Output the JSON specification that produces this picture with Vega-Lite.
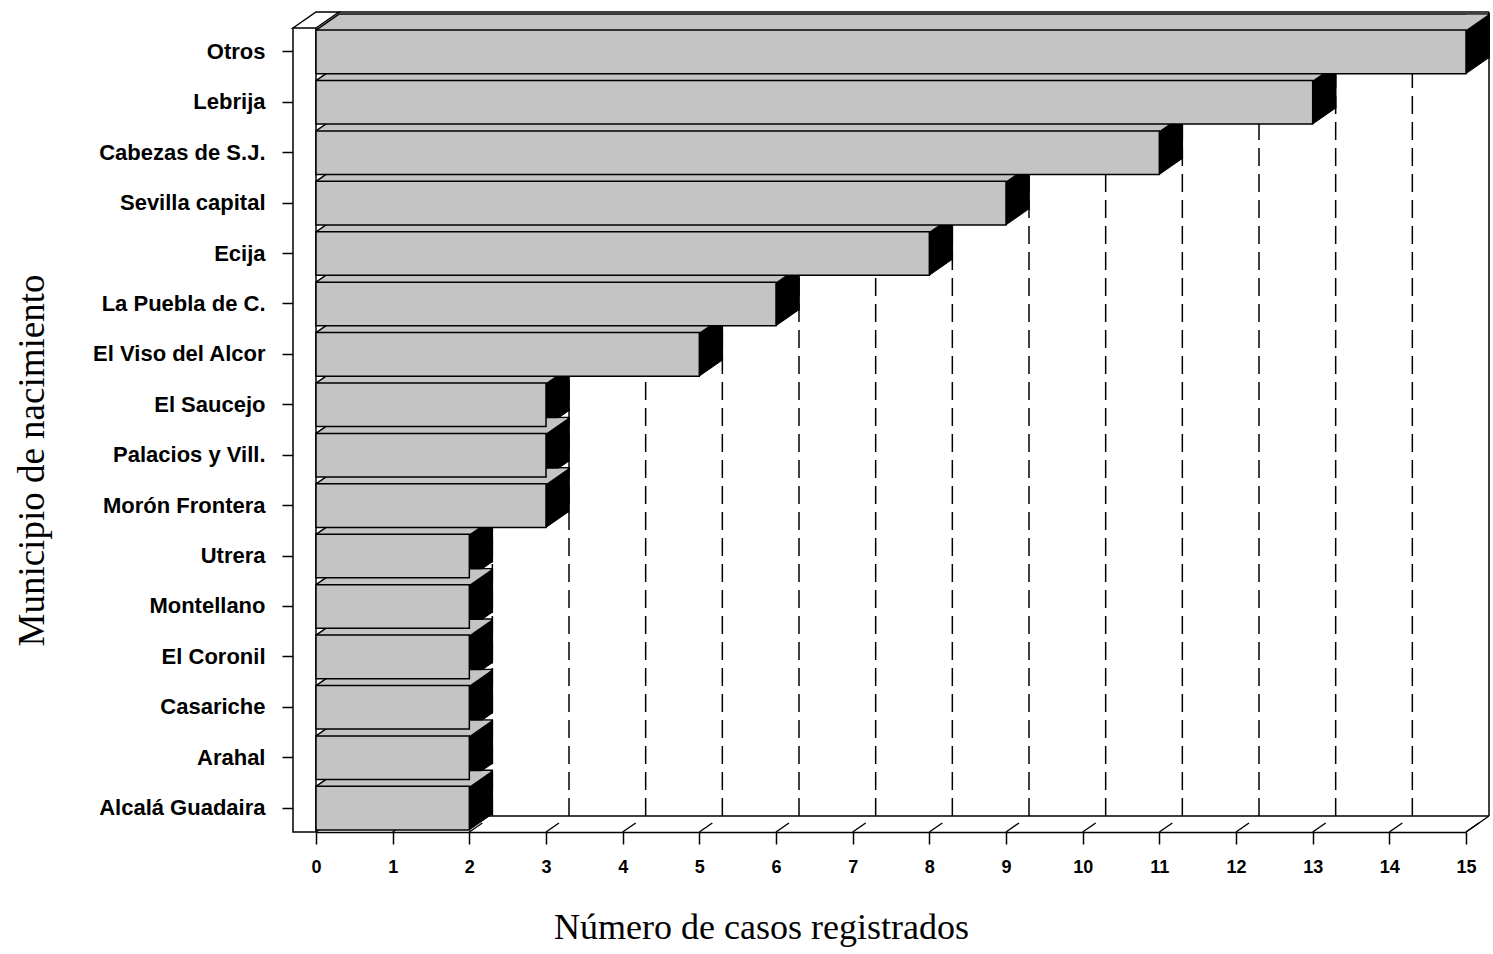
{
  "$schema": "https://vega.github.io/schema/vega-lite/v6.json",
  "width": 1150,
  "height": 804,
  "autosize": {"type": "none"},
  "padding": {"left": 316, "top": 28, "right": 27, "bottom": 122},
  "background": "white",
  "config": {
    "view": {"stroke": null},
    "axisX": {
      "tickCount": 15,
      "grid": false,
      "domainColor": "black", "domainWidth": 1.5,
      "tickColor": "black", "tickWidth": 1.5, "tickSize": 12,
      "labelFont": "Liberation Sans", "labelFontWeight": "bold", "labelFontSize": 18,
      "labelColor": "black", "labelPadding": 14, "labelOverlap": false, "labelFlush": false,
      "titleFont": "Liberation Serif", "titleFontSize": 36, "titleFontWeight": "normal",
      "titleColor": "black", "titleX": 445, "titleY": 106,
      "titleAlign": "center", "titleBaseline": "alphabetic"
    }
  },
  "datasets": {
    "municipios": [
      {"municipio": "Otros", "casos": 15},
      {"municipio": "Lebrija", "casos": 13},
      {"municipio": "Cabezas de S.J.", "casos": 11},
      {"municipio": "Sevilla capital", "casos": 9},
      {"municipio": "Ecija", "casos": 8},
      {"municipio": "La Puebla de C.", "casos": 6},
      {"municipio": "El Viso del Alcor", "casos": 5},
      {"municipio": "El Saucejo", "casos": 3},
      {"municipio": "Palacios y Vill.", "casos": 3},
      {"municipio": "Morón Frontera", "casos": 3},
      {"municipio": "Utrera", "casos": 2},
      {"municipio": "Montellano", "casos": 2},
      {"municipio": "El Coronil", "casos": 2},
      {"municipio": "Casariche", "casos": 2},
      {"municipio": "Arahal", "casos": 2},
      {"municipio": "Alcalá Guadaira", "casos": 2}
    ],
    "marcas": [
      {"t": 0}, {"t": 1}, {"t": 2}, {"t": 3}, {"t": 4}, {"t": 5}, {"t": 6}, {"t": 7},
      {"t": 8}, {"t": 9}, {"t": 10}, {"t": 11}, {"t": 12}, {"t": 13}, {"t": 14}, {"t": 15}
    ],
    "uno": [{}]
  },
  "resolve": {"scale": {"y": "independent"}},
  "layer": [
    {
      "layer": [
        {
          "data": {"name": "marcas"},
          "transform": [{"filter": "datum.t > 0 && datum.t < 15"}],
          "mark": {"type": "rule", "color": "black", "strokeWidth": 1.5, "strokeDash": [18, 8], "xOffset": 23, "yOffset": -16, "y2Offset": -16},
          "encoding": {
            "x": {"field": "t", "type": "quantitative", "scale": {"domain": [0, 15], "nice": false}, "title": "Número de casos registrados"},
            "y": {"datum": 0, "type": "quantitative", "scale": {"domain": [0, 1], "nice": false}, "axis": null},
            "y2": {"datum": 1}
          }
        },
        {
          "data": {"name": "uno"},
          "mark": {"type": "rule", "color": "black", "strokeWidth": 1.5, "xOffset": 23, "x2Offset": 23, "yOffset": -16},
          "encoding": {
            "x": {"datum": 0, "type": "quantitative", "scale": {"domain": [0, 15], "nice": false}, "title": "Número de casos registrados"},
            "x2": {"datum": 15},
            "y": {"datum": 1, "type": "quantitative", "scale": {"domain": [0, 1], "nice": false}, "axis": null}
          }
        },
        {
          "data": {"name": "uno"},
          "mark": {"type": "rule", "color": "black", "strokeWidth": 1.5, "xOffset": 23, "x2Offset": 23, "yOffset": -16},
          "encoding": {
            "x": {"datum": 0, "type": "quantitative", "scale": {"domain": [0, 15], "nice": false}, "title": "Número de casos registrados"},
            "x2": {"datum": 15},
            "y": {"datum": 0, "type": "quantitative", "scale": {"domain": [0, 1], "nice": false}, "axis": null}
          }
        },
        {
          "data": {"name": "uno"},
          "mark": {"type": "rule", "color": "black", "strokeWidth": 1.5, "xOffset": 23, "yOffset": -16, "y2Offset": -16},
          "encoding": {
            "x": {"datum": 15, "type": "quantitative", "scale": {"domain": [0, 15], "nice": false}, "title": "Número de casos registrados"},
            "y": {"datum": 0, "type": "quantitative", "scale": {"domain": [0, 1], "nice": false}, "axis": null},
            "y2": {"datum": 1}
          }
        },
        {
          "data": {"name": "marcas"},
          "mark": {"type": "point", "shape": "M0,0L13,-9", "size": 4, "filled": false, "stroke": "black", "strokeWidth": 1.5, "opacity": 1},
          "encoding": {
            "x": {"field": "t", "type": "quantitative", "scale": {"domain": [0, 15], "nice": false}, "title": "Número de casos registrados"},
            "y": {"datum": 0, "type": "quantitative", "scale": {"domain": [0, 1], "nice": false}, "axis": null}
          }
        },
        {
          "data": {"name": "uno"},
          "mark": {"type": "point", "shape": "M0,0L23,-16", "size": 4, "filled": false, "stroke": "black", "strokeWidth": 1.5, "opacity": 1},
          "encoding": {
            "x": {"datum": 15, "type": "quantitative", "scale": {"domain": [0, 15], "nice": false}, "title": "Número de casos registrados"},
            "y": {"datum": 0, "type": "quantitative", "scale": {"domain": [0, 1], "nice": false}, "axis": null}
          }
        },
        {
          "data": {"name": "uno"},
          "mark": {"type": "point", "shape": "M-23,0L0,0L0,-804L-23,-804Z M-23,-804L0,-820L23,-820L0,-804Z", "size": 4, "filled": true, "fill": "white", "stroke": "black", "strokeWidth": 1.5, "opacity": 1},
          "encoding": {
            "x": {"datum": 0, "type": "quantitative", "scale": {"domain": [0, 15], "nice": false}, "title": "Número de casos registrados"},
            "y": {"datum": 0, "type": "quantitative", "scale": {"domain": [0, 1], "nice": false}, "axis": null}
          }
        }
      ]
    },
    {
      "data": {"name": "municipios"},
      "encoding": {
        "y": {
          "field": "municipio",
          "type": "nominal",
          "sort": null,
          "scale": {"paddingInner": 0.137, "paddingOuter": 0.042},
          "axis": {
            "offset": 23, "domain": false,
            "tickColor": "black", "tickWidth": 1.5, "tickSize": 11,
            "labelFont": "Liberation Sans", "labelFontWeight": "bold", "labelFontSize": 22,
            "labelColor": "black", "labelPadding": 17, "labelLimit": 0,
            "titleFont": "Liberation Serif", "titleFontSize": 37, "titleFontWeight": "normal",
            "titleColor": "black", "titleAngle": 270, "titleX": -250, "titleY": 432,
            "titleAlign": "center", "titleBaseline": "alphabetic"
          },
          "title": "Municipio de nacimiento"
        }
      },
      "layer": [
        {
          "mark": {"type": "bar", "fill": "#c4c4c4", "stroke": "black", "strokeWidth": 1.5, "xOffset": 23, "x2Offset": 23, "yOffset": -16},
          "encoding": {
            "x": {"field": "casos", "type": "quantitative", "scale": {"domain": [0, 15], "nice": false}, "title": "Número de casos registrados"},
            "x2": {"datum": 0}
          }
        },
        {
          "mark": {"type": "point", "shape": "M0,-21.75L23,-37.75L23,5.75L0,21.75Z", "size": 4, "filled": true, "fill": "black", "stroke": "black", "strokeWidth": 1, "opacity": 1},
          "encoding": {
            "x": {"field": "casos", "type": "quantitative", "scale": {"domain": [0, 15], "nice": false}, "title": "Número de casos registrados"}
          }
        },
        {
          "mark": {"type": "point", "shape": "M0,-21.75L0,-37L21.9,-37Z", "size": 4, "filled": true, "fill": "#c4c4c4", "strokeWidth": 0, "opacity": 1},
          "encoding": {
            "x": {"field": "casos", "type": "quantitative", "scale": {"domain": [0, 15], "nice": false}, "title": "Número de casos registrados"}
          }
        },
        {
          "mark": {"type": "point", "shape": "M0,-21.75L22.2,-37L24,-37L24,-21.75Z", "size": 4, "filled": true, "fill": "#c4c4c4", "strokeWidth": 0, "opacity": 1},
          "encoding": {
            "x": {"datum": 0, "type": "quantitative", "scale": {"domain": [0, 15], "nice": false}, "title": "Número de casos registrados"}
          }
        },
        {
          "mark": {"type": "point", "shape": "M0,-21.75L23,-37.75", "size": 4, "filled": false, "stroke": "black", "strokeWidth": 1.5, "opacity": 1},
          "encoding": {
            "x": {"datum": 0, "type": "quantitative", "scale": {"domain": [0, 15], "nice": false}, "title": "Número de casos registrados"}
          }
        },
        {
          "mark": {"type": "bar", "fill": "#c4c4c4", "stroke": "black", "strokeWidth": 1.5},
          "encoding": {
            "x": {"field": "casos", "type": "quantitative", "scale": {"domain": [0, 15], "nice": false}, "title": "Número de casos registrados"},
            "x2": {"datum": 0}
          }
        }
      ]
    }
  ]
}
